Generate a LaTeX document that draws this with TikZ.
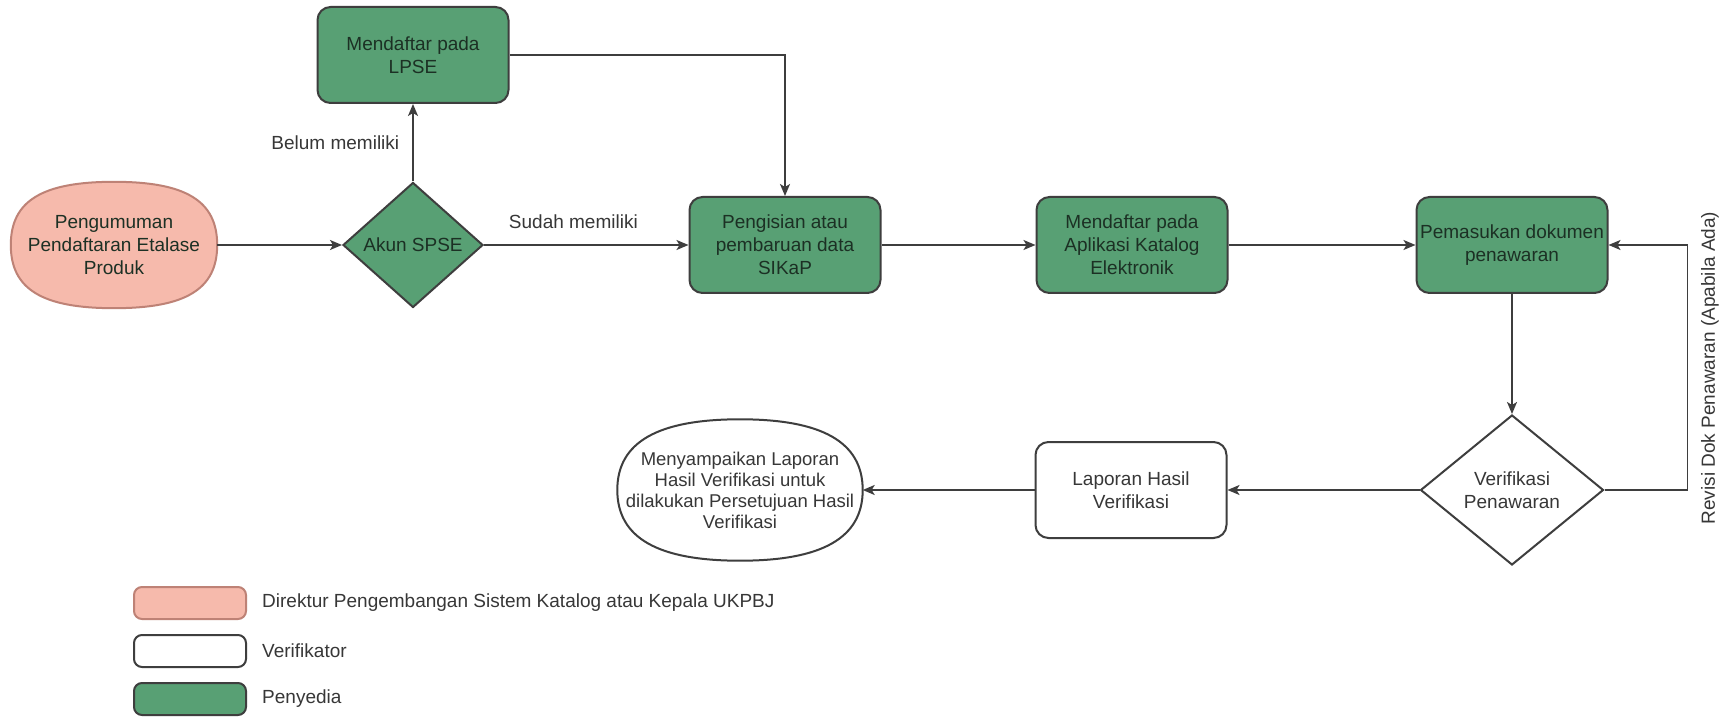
\documentclass[tikz,border=0pt]{standalone}
\usepackage{fontspec}
\setmainfont{Liberation Sans}
\usetikzlibrary{arrows.meta,shapes.geometric}
\definecolor{gfill}{RGB}{88,160,116}
\definecolor{pfill}{RGB}{246,186,172}
\definecolor{pdraw}{RGB}{190,130,118}
\definecolor{edgec}{RGB}{62,62,62}
\definecolor{txtc}{RGB}{55,55,55}
\definecolor{gtxt}{RGB}{28,48,36}
\begin{document}
\begin{tikzpicture}[x=1pt,y=-1pt,
  font=\fontsize{19}{23}\selectfont,
  greenbox/.style={draw=edgec, line width=2pt, fill=gfill, rounded corners=13pt,
    minimum width=191pt, minimum height=96pt, align=center, text=gtxt, inner sep=0pt},
  whitebox/.style={draw=edgec, line width=2pt, fill=white, rounded corners=13pt,
    minimum width=191pt, minimum height=96pt, align=center, text=txtc, inner sep=0pt},
  decide/.style={diamond, draw=edgec, line width=2pt, align=center, inner sep=0pt},
  lbl/.style={text=txtc, inner sep=0pt},
  frame/.style={inner sep=0pt, draw=none},
  arr/.style={draw=edgec, line width=1.6pt, -{Stealth[length=12pt,width=10pt,inset=3pt]}},
  legbox/.style={draw=edgec, line width=2pt, rounded corners=8pt,
    minimum width=112pt, minimum height=32pt, inner sep=0pt}]
\useasboundingbox[fill=white] (0,0) rectangle (1733,727);

% start/end shapes (superellipse outlines)
\node[frame, minimum width=206pt, minimum height=126pt] (peng) at (114,245) {};
\draw[draw=pdraw, line width=2pt, fill=pfill]
  (peng.north) .. controls +(72,0) and +(0,-44) .. (peng.east)
  .. controls +(0,44) and +(72,0) .. (peng.south)
  .. controls +(-72,0) and +(0,44) .. (peng.west)
  .. controls +(0,-44) and +(-72,0) .. (peng.north) -- cycle;
\node[align=center, text=gtxt, inner sep=0pt] (pengtxt) at (peng.center) {Pengumuman\\Pendaftaran Etalase\\Produk};

\node[frame, minimum width=245pt, minimum height=141pt] (lapor) at (740,490) {};
\draw[draw=edgec, line width=2pt, fill=white]
  (lapor.north) .. controls +(82,0) and +(0,-48) .. (lapor.east)
  .. controls +(0,48) and +(82,0) .. (lapor.south)
  .. controls +(-82,0) and +(0,48) .. (lapor.west)
  .. controls +(0,-48) and +(-82,0) .. (lapor.north) -- cycle;
\node[align=center, text=txtc, inner sep=0pt, font=\fontsize{18.5}{21}\selectfont]
  (laportxt) at (lapor.center) {Menyampaikan Laporan\\Hasil Verifikasi untuk\\dilakukan Persetujuan Hasil\\Verifikasi};

% process nodes
\node[decide, fill=gfill, text=gtxt, minimum width=140pt, minimum height=125pt]
  (akun) at (413,245) {Akun SPSE};
\node[greenbox] (lpse) at (413,55) {Mendaftar pada\\LPSE};
\node[greenbox] (sikap) at (785,245) {Pengisian atau\\pembaruan data\\SIKaP};
\node[greenbox] (apl) at (1132,245) {Mendaftar pada\\Aplikasi Katalog\\Elektronik};
\node[greenbox] (pemas) at (1512,245) {Pemasukan dokumen\\penawaran};
\node[decide, fill=white, text=txtc, minimum width=183pt, minimum height=150pt]
  (verif) at (1512,490) {Verifikasi\\Penawaran};
\node[whitebox] (lap) at (1131,490) {Laporan Hasil\\Verifikasi};

% connectors
\draw[arr] (peng.east) -- (akun.west);
\draw[arr] (akun.north) -- node[lbl, anchor=east, xshift=-13pt] (belum) {Belum memiliki} (lpse.south);
\draw[arr] (akun.east) -- node[lbl, pos=0.437, anchor=south, yshift=16pt] (sudah) {Sudah memiliki} (sikap.west);
\draw[arr] (lpse.east) -| (sikap.north);
\draw[arr] (sikap.east) -- (apl.west);
\draw[arr] (apl.east) -- (pemas.west);
\draw[arr] (pemas.south) -- (verif.north);
\draw[arr] (verif.east) -- ++(83,0) coordinate (rc) |- (pemas.east);
\node[lbl, rotate=90] (revisi) at (1710,368) {Revisi Dok Penawaran (Apabila Ada)};
\draw[arr] (verif.west) -- (lap.east);
\draw[arr] (lap.west) -- (lapor.east);

% legend
\node[legbox, fill=pfill, draw=pdraw] (lg1) at (190,603) {};
\node[lbl, anchor=west] (lt1) at (262,603) {Direktur Pengembangan Sistem Katalog atau Kepala UKPBJ};
\node[legbox, fill=white] (lg2) at (190,651) {};
\node[lbl, anchor=west] (lt2) at (262,651) {Verifikator};
\node[legbox, fill=gfill] (lg3) at (190,699) {};
\node[lbl, anchor=west] (lt3) at (262,699) {Penyedia};
\end{tikzpicture}
\end{document}
